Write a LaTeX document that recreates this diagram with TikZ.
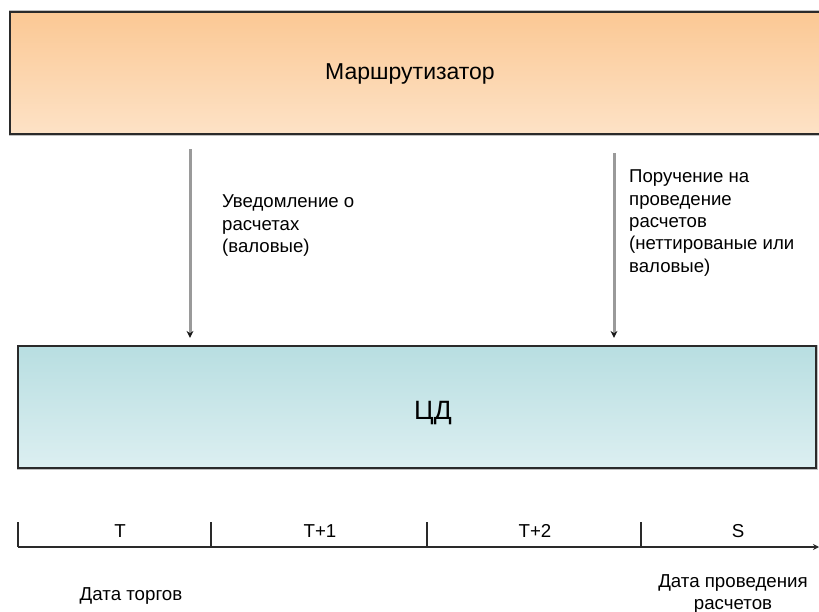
\documentclass[tikz,border=0pt]{standalone}
\usepackage{fontspec}
\setmainfont{Liberation Sans}
\usetikzlibrary{arrows.meta}
\definecolor{routerTop}{HTML}{FBC894}
\definecolor{routerBot}{HTML}{FDE2C6}
\definecolor{depoTop}{HTML}{B8DEE1}
\definecolor{depoBot}{HTML}{DCEFF1}
\definecolor{flowgray}{HTML}{9A9A9A}
\definecolor{edgegray}{HTML}{2A2A2A}
\begin{document}
\begin{tikzpicture}[x=1pt,y=-1pt,
  block/.style={draw=edgegray, line width=2.2pt, inner sep=0pt},
  halo/.style={draw=black!25, line width=1pt},
  lbl/.style={font=\fontsize{18.6}{22.3}\selectfont, align=left, inner sep=0pt},
  tlbl/.style={font=\fontsize{18.7}{22}\selectfont, inner sep=0pt},
  flow/.style={draw=flowgray, line width=3pt, -{Stealth[length=7pt,width=7pt,color=black!90]}},
  axis/.style={draw=edgegray, line width=2pt},
]
\useasboundingbox (0,0) rectangle (819,612);

% soft outline behind each block
\draw[halo] (9,11) rectangle (830,135.5);
\draw[halo] (17,345) rectangle (817.5,469.5);

% system blocks
\node[block, top color=routerTop, bottom color=routerBot,
      minimum width=815pt, minimum height=122pt] (router) at (417.5,73) {};
\node[tlbl, font=\fontsize{23}{27}\selectfont] (routerTxt) at (410,74) {Маршрутизатор};

\node[block, top color=depoTop, bottom color=depoBot,
      minimum width=798pt, minimum height=122pt] (depo) at (417,407) {};
\node[tlbl, font=\fontsize{26.5}{30}\selectfont] (depoTxt) at (433,413) {ЦД};

% messages from the router to the depository
\coordinate (xa) at (190,0);
\coordinate (xb) at (614,0);
\draw[flow, shorten <=14pt, shorten >=7pt] (router.south -| xa) -- (depo.north -| xa);
\draw[flow, shorten <=18pt, shorten >=7pt] (router.south -| xb) -- (depo.north -| xb);

\node[lbl, anchor=north west] (msgA) at (222,195)
  {Уведомление о\\расчетах\\(валовые)};
\node[lbl, anchor=north west] (msgB) at (629,170)
  {Поручение на\\проведение\\расчетов\\(неттированые или\\валовые)};

% time axis
\coordinate (t0) at (18,547);
\coordinate (tend) at (819,547);
\draw[axis, -{Stealth[length=6pt,width=6pt]}] (t0) -- (tend);
\foreach \x/\nm in {18/k0, 211/k1, 427/k2, 641/k3} {
  \coordinate (\nm) at (\x,547);
  \draw[axis] (\nm) -- ++(0,-25);
}
\node[tlbl] (dT)  at (120,531) {T};
\node[tlbl] (dT1) at (320,531) {T+1};
\node[tlbl] (dT2) at (535,531) {T+2};
\node[tlbl] (dS)  at (738,531) {S};

\node[tlbl] (tradeDate) at (131,596) {Дата торгов};
\node[tlbl, align=center] (settleDate) at (733,594) {Дата проведения\\расчетов};
\end{tikzpicture}
\end{document}
